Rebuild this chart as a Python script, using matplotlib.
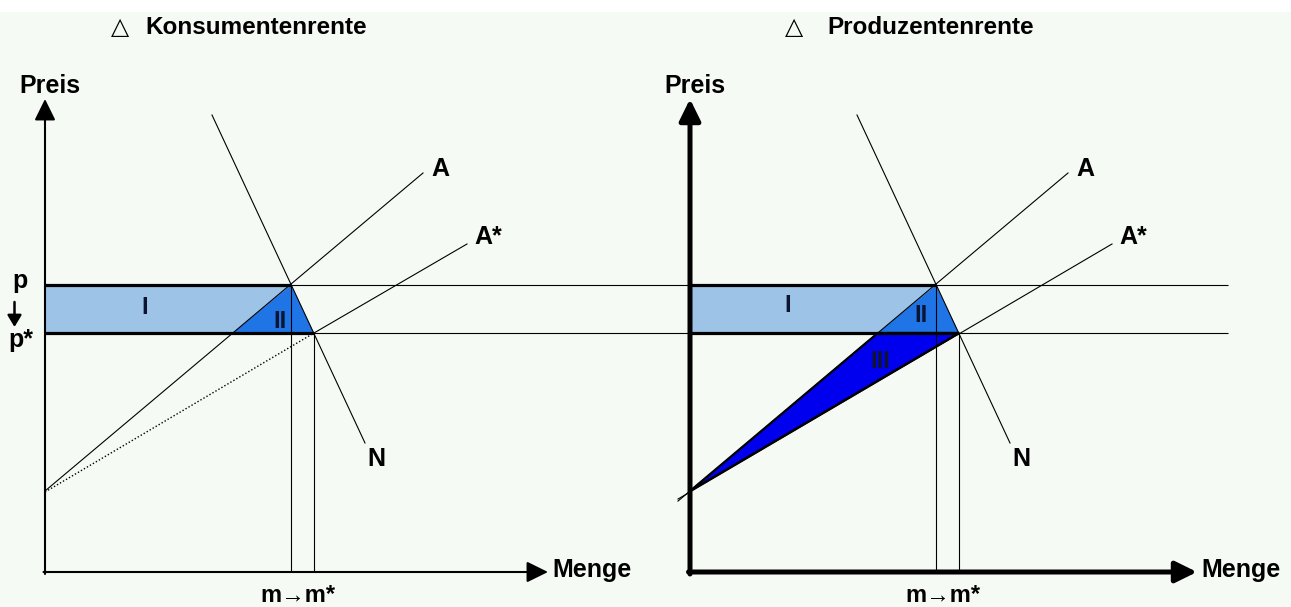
import numpy as np
import matplotlib.pyplot as plt
from matplotlib.patches import Polygon, Rectangle

# Gleichgewicht vorher (m, p) und nachher (m*, p*)
m, p = 24.6, 28.7
m_star, p_star = 26.9, 23.9

# Angebot A, neues Angebot A*, Nachfrage N (Endpunkte Menge / Preis)
A_q, A_p = [0.0, 37.8], [8.1, 39.9]
As_q, As_p = [0.0, 42.2], [8.0, 32.8]
N_q, N_p = [16.7, 32.0], [45.7, 12.9]

titles = ["Konsumentenrente", "Produzentenrente"]
area_labels = ["I", "II", "III"]

bg = "#f6faf4"
light = "#9dc3e6"
mid = "#1f74e6"
dark = "#0000ee"
font = ["Liberation Sans", "DejaVu Sans"]
plt.rcParams["font.family"] = font


def extend(q, qs, ps):
    slope = (ps[1] - ps[0]) / (qs[1] - qs[0])
    return ps[0] + slope * (q - qs[0])


def draw_panel(ax, producer=False):
    ax.set_ylim(-3.5, 57.2)
    ax.axis("off")
    x_right = ax.get_xlim()[1]
    axis_lw = 3.6 if producer else 1.5
    arrow = "-|>,head_length=0.65,head_width=0.32"

    # achsen
    ax.annotate("", xy=(0, 47.3), xytext=(0, -0.2),
                arrowprops=dict(arrowstyle=arrow, lw=axis_lw, color="black",
                                mutation_scale=20, shrinkA=0, shrinkB=0))
    x_tip = 50.7 if producer else 50.3
    ax.annotate("", xy=(x_tip, 0), xytext=(-0.15, 0),
                arrowprops=dict(arrowstyle=arrow, lw=axis_lw, color="black",
                                mutation_scale=20, shrinkA=0, shrinkB=0))
    ax.text(0.5, 47.9, "Preis", ha="center", va="baseline", fontsize=18,
            fontweight="bold")
    ax.text(x_tip + 0.4, -0.5, "Menge", ha="left", va="baseline", fontsize=18,
            fontweight="bold")
    ax.text(25.3, -3.0, "m→m*", ha="center", va="baseline", fontsize=17,
            fontweight="bold", family=font)

    # titel
    tx = 10.4 if producer else 7.5
    ax.text(tx, 53.8, "△", ha="center", va="baseline", fontsize=17,
            family=["DejaVu Sans"])
    ax.text(tx + (3.3 if producer else 2.5), 53.8,
            titles[1] if producer else titles[0],
            ha="left", va="baseline", fontsize=17.5, fontweight="bold")

    # flaechen
    a_at_pstar = np.interp(p_star, A_p, A_q)
    ax.add_patch(Polygon([(0, p_star), (0, p), (m, p), (a_at_pstar, p_star)],
                         closed=True, facecolor=light, edgecolor="none", zorder=1))
    ax.add_patch(Polygon([(m, p), (a_at_pstar, p_star), (m_star, p_star)],
                         closed=True, facecolor=mid, edgecolor="none", zorder=1))
    if producer:
        ax.add_patch(Polygon([(0, A_p[0]), (a_at_pstar, p_star), (m_star, p_star)],
                             closed=True, facecolor=dark, edgecolor="black",
                             lw=1.6, zorder=2))

    # preislinien
    h_end = 53.8 if producer else x_right
    ax.hlines([p, p_star], 0, h_end, color="black", lw=0.8, zorder=3)
    ax.hlines(p, 0, m, color="black", lw=2.3, zorder=4)
    ax.hlines(p_star, 0, m_star, color="black", lw=2.3, zorder=4)
    ax.vlines(m, 0, p, color="black", lw=0.8, zorder=3)
    ax.vlines(m_star, 0, p_star, color="black", lw=0.8, zorder=3)

    # kurven
    q0 = -1.2 if producer else 0.0
    ax.plot([q0, A_q[1]], [extend(q0, A_q, A_p), A_p[1]], color="black",
            lw=0.8, zorder=3)
    if producer:
        ax.plot([q0, As_q[1]], [extend(q0, As_q, As_p), As_p[1]], color="black",
                lw=0.8, zorder=3)
    else:
        ax.plot([As_q[0], m_star], [As_p[0], p_star], color="black", lw=1.0,
                ls=(0, (1, 1.5)), zorder=3)
        ax.plot([m_star, As_q[1]], [p_star, As_p[1]], color="black", lw=0.8,
                zorder=3)
    ax.plot(N_q, N_p, color="black", lw=0.8, zorder=3)

    ax.text(38.6, 39.6, "A", ha="left", va="baseline", fontsize=18,
            fontweight="bold")
    ax.text(42.9, 32.8, "A*", ha="left", va="baseline", fontsize=18,
            fontweight="bold")
    ax.text(32.2, 10.6, "N", ha="left", va="baseline", fontsize=18,
            fontweight="bold")

    # beschriftung der flaechen
    if producer:
        pos = [(9.8, 26.7), (23.1, 25.6), (19.0, 21.0)]
    else:
        pos = [(10.0, 26.5), (23.5, 25.1)]
    for lab, (x, y) in zip(area_labels, pos):
        ax.text(x, y, lab, ha="center", va="center", fontsize=17,
                fontweight="bold", color="#0c1430", zorder=5)

    if not producer:
        ax.text(-2.5, 29.1, "p", ha="center", va="center", fontsize=18,
                fontweight="bold")
        ax.annotate("", xy=(-3.05, 24.5), xytext=(-3.05, 27.0),
                    arrowprops=dict(arrowstyle="-|>,head_length=0.5,head_width=0.3",
                                    lw=1.8, color="black", mutation_scale=14,
                                    shrinkA=0, shrinkB=0))
        ax.text(-2.4, 23.2, "p*", ha="center", va="center", fontsize=18,
                fontweight="bold")


fig = plt.figure(figsize=(12.91, 6.07), dpi=100, facecolor=bg)
fig.patches.append(Rectangle((0, 1 - 12 / 607), 1, 12 / 607, transform=fig.transFigure,
                             facecolor="white", edgecolor="none", zorder=0))

ax1 = fig.add_axes([0, 0, 690 / 1291, 1])
ax1.set_xlim(-4.5, 64.5)
ax2 = fig.add_axes([645 / 1291, 0, 646 / 1291, 1])
ax2.set_xlim(-4.5, 60.1)
for ax in (ax1, ax2):
    ax.set_facecolor("none")

draw_panel(ax1)
draw_panel(ax2, producer=True)

fig.savefig("out.png", dpi=100, facecolor=bg)
